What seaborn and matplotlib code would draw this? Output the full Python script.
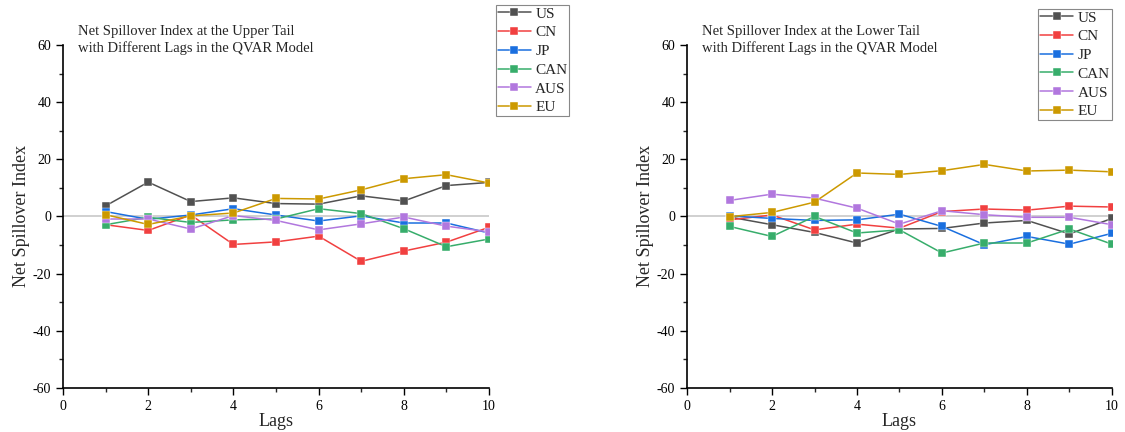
import numpy as np
import pandas as pd
import seaborn as sns
import matplotlib.pyplot as plt
from matplotlib.ticker import MultipleLocator

sns.set_theme(style="white")
plt.rcParams['font.family'] = ['Liberation Serif', 'DejaVu Serif']
plt.rcParams['axes.unicode_minus'] = False

lags = [1, 2, 3, 4, 5, 6, 7, 8, 9, 10]
countries = ["US", "CN", "JP", "CAN", "AUS", "EU"]
colors = ["#515151", "#F14040", "#1A6FDF", "#37AD6B", "#B177DE", "#CC9900"]

# upper tail
upper_us = [3.7, 12.0, 5.2, 6.5, 4.5, 4.3, 7.2, 5.4, 10.8, 11.9]
upper_cn = [-2.9, -4.9, 0.5, -9.8, -8.9, -6.9, -15.7, -12.1, -9.0, -3.8]
upper_jp = [1.7, -1.0, 0.5, 2.7, 0.5, -1.6, 0.2, -2.3, -2.3, -5.8]
upper_can = [-2.9, -0.3, -2.1, -1.2, -0.9, 2.7, 1.0, -4.3, -10.6, -7.9]
upper_aus = [-0.9, -0.9, -4.4, 0.3, -1.4, -4.7, -2.6, -0.2, -3.4, -5.4]
upper_eu = [0.6, -2.8, 0.2, 1.2, 6.3, 6.1, 9.3, 13.2, 14.6, 11.7]

# lower tail
lower_us = [-0.2, -2.9, -5.6, -9.3, -4.4, -4.2, -2.3, -1.4, -6.1, -0.7]
lower_cn = [-1.2, 0.5, -4.7, -2.7, -4.1, 1.7, 2.6, 2.2, 3.6, 3.3]
lower_jp = [0.2, -0.7, -1.4, -1.2, 0.8, -3.5, -9.9, -7.0, -9.7, -5.9]
lower_can = [-3.5, -7.0, 0.0, -5.8, -4.7, -12.8, -9.3, -9.3, -4.4, -9.7]
lower_aus = [5.6, 7.8, 6.4, 2.9, -2.7, 2.0, 0.6, -0.3, -0.3, -2.9]
lower_eu = [-0.1, 1.4, 5.0, 15.2, 14.7, 16.0, 18.2, 15.9, 16.2, 15.6]

upper = [upper_us, upper_cn, upper_jp, upper_can, upper_aus, upper_eu]
lower = [lower_us, lower_cn, lower_jp, lower_can, lower_aus, lower_eu]


def to_long(series):
    rows = []
    for name, vals in zip(countries, series):
        for lag, v in zip(lags, vals):
            rows.append({"Lag": lag, "Country": name, "Value": v})
    return pd.DataFrame(rows)


fig = plt.figure(figsize=(11.25, 4.32), dpi=100)
ax1 = fig.add_axes([0.056, 0.102, 0.3787, 0.794])
ax2 = fig.add_axes([0.6107, 0.102, 0.3777, 0.794])

panels = [
    (ax1, upper, "Net Spillover Index at the Upper Tail\nwith Different Lags in the QVAR Model",
     (0.506, 0.988)),
    (ax2, lower, "Net Spillover Index at the Lower Tail\nwith Different Lags in the QVAR Model",
     (0.988, 0.979)),
]

for ax, series, title, leg_pos in panels:
    ax.axhline(0, color="#c8c8c8", linewidth=1.2, zorder=0)
    df = to_long(series)
    sns.lineplot(data=df, x="Lag", y="Value", hue="Country", hue_order=countries,
                 palette=colors, marker="s", markersize=6, markeredgewidth=0.3,
                 linewidth=1.1, ax=ax, legend=False)
    ax.set_xlim(0, 10)
    ax.set_ylim(-60, 60)
    ax.xaxis.set_major_locator(MultipleLocator(2))
    ax.xaxis.set_minor_locator(MultipleLocator(1))
    ax.yaxis.set_major_locator(MultipleLocator(20))
    ax.yaxis.set_minor_locator(MultipleLocator(10))
    ax.tick_params(axis="both", which="major", direction="out", length=5, width=1,
                   labelsize=10, bottom=True, left=True, colors="black")
    ax.tick_params(axis="both", which="minor", direction="out", length=3, width=1,
                   bottom=True, left=True)
    for s in ["top", "right"]:
        ax.spines[s].set_visible(False)
    for s in ["left", "bottom"]:
        ax.spines[s].set_color("black")
        ax.spines[s].set_linewidth(1.2)
    ax.set_xlabel("Lags", fontsize=13, labelpad=0)
    ax.set_ylabel("Net Spillover Index", fontsize=13, labelpad=2)
    ax.text(0.035, 1.013, title, transform=ax.transAxes, fontsize=10.5,
            va="center", ha="left", linespacing=1.3)

    handles = ax.get_lines()[1:]
    leg = fig.legend(handles, countries, loc="upper right", bbox_to_anchor=leg_pos,
                     fontsize=11, frameon=True, fancybox=False, framealpha=1,
                     edgecolor="#888888", handlelength=2.15, handletextpad=0.3,
                     labelspacing=0.33, borderpad=0.12, borderaxespad=0)
    leg.get_frame().set_linewidth(0.8)

fig.savefig("out.png", dpi=100)
